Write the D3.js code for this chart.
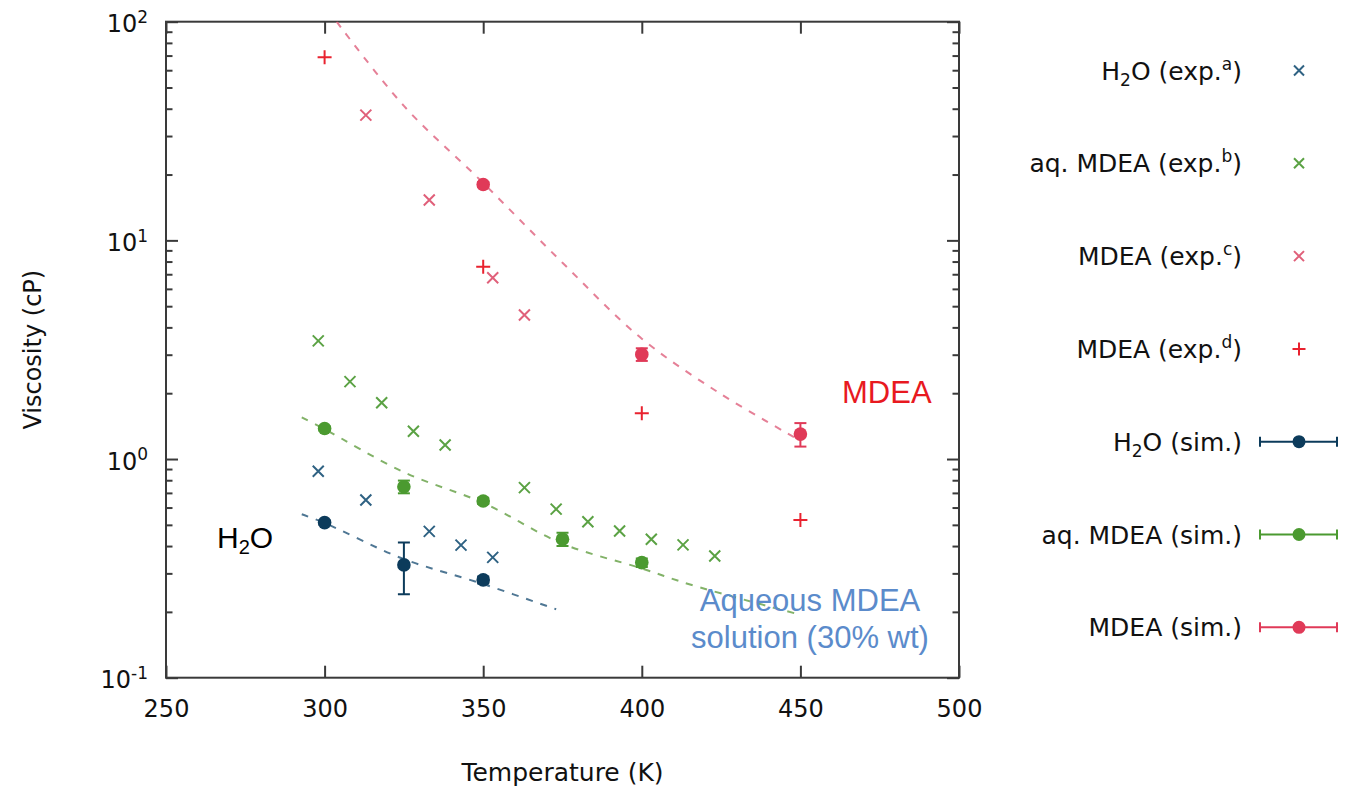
<!DOCTYPE html>
<html>
<head>
<meta charset="utf-8">
<script src="https://cdn.jsdelivr.net/npm/d3@7"></script>
<style>
  html, body { margin: 0; padding: 0; background: #fff; }
  svg { display: block; }
</style>
</head>
<body>
<svg id="chart" width="1365" height="787"></svg>
<script>
// ---- axis ticks ----
const tempTicks = [250, 300, 350, 400, 450, 500];
const viscDecades = [0.1, 1, 10, 100];

// ---- experimental data (viscosity in cP) ----
const h2oExpT = [298, 313, 333, 343, 353];
const h2oExpV = [0.88, 0.65, 0.467, 0.404, 0.355];

const aqExpT = [298, 308, 318, 328, 338, 363, 373, 383, 393, 403, 413, 423];
const aqExpV = [3.47, 2.26, 1.81, 1.34, 1.16, 0.74, 0.59, 0.517, 0.469, 0.43, 0.405, 0.36];

const mdeaExpCT = [313, 333, 353, 363];
const mdeaExpCV = [37.4, 15.3, 6.75, 4.56];

const mdeaExpDT = [300, 350, 400, 450];
const mdeaExpDV = [68.7, 7.58, 1.62, 0.526];

// ---- simulation data with uncertainties ----
const h2oSimT = [300, 325, 350];
const h2oSimV = [0.512, 0.328, 0.28];
const h2oSimErr = [0.012, 0.087, 0.01];

const aqSimT = [300, 325, 350, 375, 400];
const aqSimV = [1.38, 0.747, 0.643, 0.43, 0.336];
const aqSimErr = [0.03, 0.05, 0.02, 0.03, 0.015];

const mdeaSimT = [350, 400, 450];
const mdeaSimV = [18.0, 3.01, 1.30];
const mdeaSimErr = [0.5, 0.2, 0.16];

// ---- fitted curves (dashed) ----
const h2oFitT = [292.8, 300, 320.6, 328.6, 350, 373];
const h2oFitV = [0.559, 0.51, 0.37, 0.334, 0.268, 0.2055];

const aqFitT = [292.8, 300, 325, 350, 375, 400, 415.5, 450];
const aqFitV = [1.55, 1.37, 0.87, 0.63, 0.41, 0.316, 0.266, 0.194];

const mdeaFitT = [303.8, 325, 350, 375, 400, 425, 448];
const mdeaFitV = [100, 41.2, 18.3, 7.9, 3.55, 1.98, 1.26];

// ---- colours ----
const C = {
  h2oExp: "#2f6283",
  h2oSim: "#0c3b5b",
  h2oFit: "#3c6888",
  aqExp: "#5ba244",
  aqSim: "#4b9a30",
  aqFit: "#74aa58",
  mdeaExpC: "#e0607a",
  mdeaExpD: "#e9222f",
  mdeaSim: "#e03a58",
  mdeaFit: "#e2728c",
  axis: "#3a3a3a"
};

const svg = d3.select("#chart");
const pLeft = 166, pRight = 959, pTop = 21.7, pBottom = 677.7;

const x = d3.scaleLinear().domain([250, 500]).range([pLeft, pRight]);
const y = d3.scaleLog().domain([0.1, 100]).range([pBottom, pTop]);

const minorTicks = [];
viscDecades.slice(0, -1).forEach(d => { for (let k = 2; k <= 9; k++) minorTicks.push(d * k); });

const axisFont = "'DejaVu Sans', Verdana, sans-serif";
const annoFont = "'Liberation Sans', Arial, Helvetica, sans-serif";

function styleAxis(g) {
  g.select(".domain").remove();
  g.selectAll(".tick line").attr("stroke", C.axis).attr("stroke-width", 2);
  g.selectAll(".tick text").attr("fill", "#111").attr("font-family", axisFont);
}

// bottom axis with labels
svg.append("g")
  .attr("transform", `translate(0,${pBottom})`)
  .call(d3.axisBottom(x).tickValues(tempTicks).tickSize(-12).tickPadding(22).tickFormat(d3.format("d")))
  .call(styleAxis)
  .call(g => g.selectAll(".tick text").attr("font-size", 24));

// top mirror ticks
svg.append("g")
  .attr("transform", `translate(0,${pTop})`)
  .call(d3.axisTop(x).tickValues(tempTicks).tickSize(-12).tickFormat(""))
  .call(styleAxis);

// left axis: majors with 10^n labels
svg.append("g")
  .attr("transform", `translate(${pLeft},0)`)
  .call(d3.axisLeft(y).tickValues(viscDecades).tickSize(-12).tickPadding(18))
  .call(styleAxis)
  .call(g => g.selectAll(".tick text").each(function(d) {
    const t = d3.select(this);
    const e = Math.round(Math.log10(d));
    t.text(null).attr("font-size", 24).attr("dy", "0.42em");
    t.append("tspan").text("10");
    t.append("tspan").attr("dy", "-0.55em").attr("font-size", 17).text(e < 0 ? "-" + (-e) : String(e));
  }));

svg.append("g")
  .attr("transform", `translate(${pLeft},0)`)
  .call(d3.axisLeft(y).tickValues(minorTicks).tickSize(-6.5).tickFormat(""))
  .call(styleAxis);

// right mirror ticks
svg.append("g")
  .attr("transform", `translate(${pRight},0)`)
  .call(d3.axisRight(y).tickValues(viscDecades).tickSize(-12).tickFormat(""))
  .call(styleAxis);
svg.append("g")
  .attr("transform", `translate(${pRight},0)`)
  .call(d3.axisRight(y).tickValues(minorTicks).tickSize(-6.5).tickFormat(""))
  .call(styleAxis);

// frame
svg.append("rect")
  .attr("x", pLeft).attr("y", pTop)
  .attr("width", pRight - pLeft).attr("height", pBottom - pTop)
  .attr("fill", "none").attr("stroke", C.axis).attr("stroke-width", 2);

// axis titles
svg.append("text")
  .attr("x", (pLeft + pRight) / 2).attr("y", 781)
  .attr("text-anchor", "middle")
  .attr("font-family", axisFont).attr("font-size", 25).attr("fill", "#111")
  .text("Temperature (K)");

svg.append("text")
  .attr("transform", `translate(41,${(pTop + pBottom) / 2}) rotate(-90)`)
  .attr("text-anchor", "middle")
  .attr("font-family", axisFont).attr("font-size", 24).attr("fill", "#111")
  .text("Viscosity (cP)");

// ---- plot layer clipped to the frame ----
svg.append("clipPath").attr("id", "plotClip")
  .append("rect").attr("x", pLeft).attr("y", pTop).attr("width", pRight - pLeft).attr("height", pBottom - pTop);
const plot = svg.append("g").attr("clip-path", "url(#plotClip)");

const fitLine = d3.line().x(d => x(d[0])).y(d => y(d[1])).curve(d3.curveCatmullRom.alpha(0.5));
function drawFit(T, V, color) {
  plot.append("path")
    .datum(T.map((t, i) => [t, V[i]]))
    .attr("d", fitLine)
    .attr("fill", "none")
    .attr("stroke", color)
    .attr("stroke-width", 2)
    .attr("stroke-dasharray", "7,8")
    .attr("opacity", 0.9);
}
drawFit(mdeaFitT, mdeaFitV, C.mdeaFit);
drawFit(aqFitT, aqFitV, C.aqFit);
drawFit(h2oFitT, h2oFitV, C.h2oFit);

const crossPath = s => `M${-s},${-s}L${s},${s}M${-s},${s}L${s},${-s}`;
const plusPath = s => `M${-s},0H${s}M0,${-s}V${s}`;

function drawMarks(T, V, pathFn, size, color) {
  plot.append("g").selectAll("path")
    .data(T.map((t, i) => [t, V[i]]))
    .join("path")
    .attr("transform", d => `translate(${x(d[0])},${y(d[1])})`)
    .attr("d", pathFn(size))
    .attr("fill", "none")
    .attr("stroke", color)
    .attr("stroke-width", 2);
}

function drawSim(T, V, E, color) {
  const g = plot.append("g");
  const data = T.map((t, i) => ({ t, v: V[i], e: E[i] }));
  const bars = g.selectAll("g.bar").data(data).join("g").attr("class", "bar")
    .attr("stroke", color).attr("stroke-width", 2);
  bars.append("line")
    .attr("x1", d => x(d.t)).attr("x2", d => x(d.t))
    .attr("y1", d => y(d.v - d.e)).attr("y2", d => y(d.v + d.e));
  bars.append("line")
    .attr("x1", d => x(d.t) - 6).attr("x2", d => x(d.t) + 6)
    .attr("y1", d => y(d.v - d.e)).attr("y2", d => y(d.v - d.e));
  bars.append("line")
    .attr("x1", d => x(d.t) - 6).attr("x2", d => x(d.t) + 6)
    .attr("y1", d => y(d.v + d.e)).attr("y2", d => y(d.v + d.e));
  g.selectAll("circle").data(data).join("circle")
    .attr("cx", d => x(d.t)).attr("cy", d => y(d.v)).attr("r", 6.8)
    .attr("fill", color);
}

drawMarks(h2oExpT, h2oExpV, crossPath, 5.5, C.h2oExp);
drawMarks(aqExpT, aqExpV, crossPath, 5.5, C.aqExp);
drawMarks(mdeaExpCT, mdeaExpCV, crossPath, 5.5, C.mdeaExpC);
drawMarks(mdeaExpDT, mdeaExpDV, plusPath, 7, C.mdeaExpD);
drawSim(h2oSimT, h2oSimV, h2oSimErr, C.h2oSim);
drawSim(aqSimT, aqSimV, aqSimErr, C.aqSim);
drawSim(mdeaSimT, mdeaSimV, mdeaSimErr, C.mdeaSim);

// ---- annotations ----
svg.append("text")
  .attr("x", 842).attr("y", 403)
  .attr("font-family", annoFont).attr("font-size", 31).attr("fill", "#e8191f")
  .text("MDEA");

const h2oLbl = svg.append("text")
  .attr("x", 217).attr("y", 548)
  .attr("font-family", annoFont).attr("font-size", 30).attr("fill", "#000");
h2oLbl.append("tspan").text("H");
h2oLbl.append("tspan").attr("font-size", 20).attr("dy", 6).text("2");
h2oLbl.append("tspan").attr("dy", -6).text("O");

svg.append("text")
  .attr("x", 810).attr("y", 611)
  .attr("text-anchor", "middle")
  .attr("font-family", annoFont).attr("font-size", 31).attr("fill", "#5b8bcb")
  .text("Aqueous MDEA");
svg.append("text")
  .attr("x", 810).attr("y", 648)
  .attr("text-anchor", "middle")
  .attr("font-family", annoFont).attr("font-size", 31).attr("fill", "#5b8bcb")
  .text("solution (30% wt)");

// ---- legend ----
const legendItems = [
  { parts: [["H", 0], ["2", -1], ["O (exp.", 0], ["a", 1], [")", 0]], kind: "cross", color: C.h2oExp },
  { parts: [["aq. MDEA (exp.", 0], ["b", 1], [")", 0]], kind: "cross", color: C.aqExp },
  { parts: [["MDEA (exp.", 0], ["c", 1], [")", 0]], kind: "cross", color: C.mdeaExpC },
  { parts: [["MDEA (exp.", 0], ["d", 1], [")", 0]], kind: "plus", color: C.mdeaExpD },
  { parts: [["H", 0], ["2", -1], ["O (sim.)", 0]], kind: "sim", color: C.h2oSim },
  { parts: [["aq. MDEA (sim.)", 0]], kind: "sim", color: C.aqSim },
  { parts: [["MDEA (sim.)", 0]], kind: "sim", color: C.mdeaSim }
];
const legX = 1242, legMark = 1299, legY0 = 70.5, legStep = 92.8;

const legend = svg.append("g");
legendItems.forEach((item, i) => {
  const cy = legY0 + i * legStep;
  const t = legend.append("text")
    .attr("x", legX).attr("y", cy + 9)
    .attr("text-anchor", "end")
    .attr("font-family", axisFont).attr("font-size", 25).attr("fill", "#111");
  let shift = 0;
  item.parts.forEach(([s, mode]) => {
    const target = mode === 1 ? -10 : mode === -1 ? 6 : 0;
    const span = t.append("tspan").text(s).attr("dy", target - shift);
    if (mode !== 0) span.attr("font-size", 17);
    shift = target;
  });
  const g = legend.append("g").attr("transform", `translate(${legMark},${cy})`)
    .attr("stroke", item.color).attr("stroke-width", 2).attr("fill", "none");
  if (item.kind === "cross") {
    g.append("path").attr("d", crossPath(5));
  } else if (item.kind === "plus") {
    g.append("path").attr("d", plusPath(6.5));
  } else {
    g.append("line").attr("x1", -39).attr("x2", 38).attr("y1", 0).attr("y2", 0);
    g.append("line").attr("x1", -39).attr("x2", -39).attr("y1", -5).attr("y2", 5);
    g.append("line").attr("x1", 38).attr("x2", 38).attr("y1", -5).attr("y2", 5);
    g.append("circle").attr("r", 6.5).attr("fill", item.color).attr("stroke", "none");
  }
});
</script>
</body>
</html>
